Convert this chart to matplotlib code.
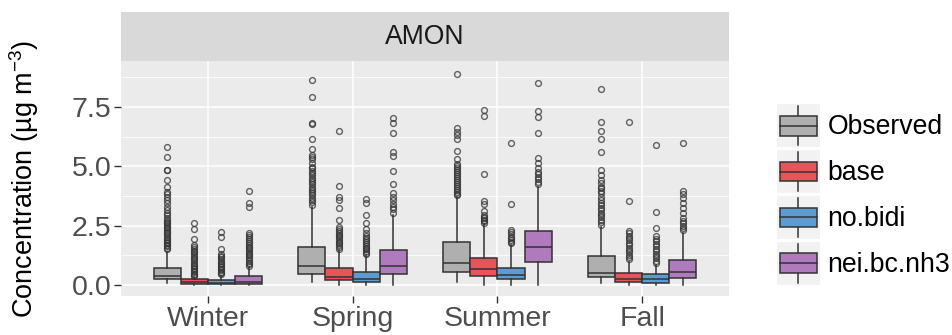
import numpy as np
import matplotlib.pyplot as plt
from matplotlib.legend_handler import HandlerBase
from matplotlib.patches import Rectangle, Patch
from matplotlib.lines import Line2D

plt.rcParams['font.family'] = ['Liberation Sans', 'DejaVu Sans']
plt.rcParams['mathtext.fontset'] = 'custom'
plt.rcParams['mathtext.rm'] = 'Liberation Sans'
plt.rcParams['mathtext.it'] = 'Liberation Sans:italic'

# Data (rows: series, cols: seasons)
seasons = ['Winter', 'Spring', 'Summer', 'Fall']
series = ['Observed', 'base', 'no.bidi', 'nei.bc.nh3']
colors = ['#AFAFAF', '#E8545A', '#5E9BD0', '#AF7BBD']

q1 = [[0.24, 0.45, 0.56, 0.32],
      [0.04, 0.21, 0.38, 0.14],
      [0.03, 0.14, 0.24, 0.10],
      [0.03, 0.45, 0.98, 0.28]]
med = [[0.38, 0.80, 0.91, 0.52],
       [0.14, 0.35, 0.66, 0.24],
       [0.10, 0.24, 0.41, 0.24],
       [0.14, 0.80, 1.61, 0.56]]
q3 = [[0.73, 1.61, 1.82, 1.22],
      [0.24, 0.70, 1.12, 0.52],
      [0.21, 0.56, 0.73, 0.45],
      [0.38, 1.47, 2.28, 1.05]]
whislo = [[0.10, 0.14, 0.14, 0.10],
          [0.00, 0.02, 0.02, 0.02],
          [0.00, 0.02, 0.02, 0.02],
          [0.00, 0.02, 0.02, 0.02]]
whishi = [[1.40, 3.30, 3.70, 2.46],
          [0.35, 1.47, 2.57, 0.98],
          [0.40, 1.26, 1.69, 0.84],
          [0.77, 2.95, 4.14, 2.18]]

obs_out = [
    [5.83, 5.41, 4.85, 4.83, 4.42, 4.14, 3.93, 3.85, 3.72, 3.60, 3.45, 3.30, 3.16, 3.05, 2.95,
     2.81, 2.75, 2.67, 2.60, 2.52, 2.46, 2.40, 2.33, 2.25, 2.18, 2.10, 2.03, 1.96, 1.90, 1.83,
     1.76, 1.70, 1.63, 1.55, 1.50],
    [8.64, 7.91, 6.81, 6.78, 6.17, 5.74, 5.48, 5.41, 5.30, 5.15, 4.98, 4.92, 4.80, 4.71, 4.62,
     4.52, 4.42, 4.33, 4.24, 4.14, 4.05, 3.96, 3.86, 3.78, 3.68, 3.58, 3.48, 3.37],
    [8.89, 6.60, 6.46, 6.32, 6.15, 5.66, 5.30, 5.12, 5.03, 4.95, 4.86, 4.78, 4.70, 4.61, 4.53,
     4.44, 4.35, 4.27, 4.18, 4.10, 4.01, 3.93, 3.84, 3.78],
    [8.27, 6.88, 6.49, 6.14, 5.62, 4.85, 4.64, 4.42, 4.28, 4.15, 4.07, 3.96, 3.86, 3.72, 3.58,
     3.45, 3.37, 3.26, 3.16, 3.05, 2.95, 2.85, 2.74, 2.64, 2.53],
]
base_out = [
    [2.63, 2.36, 1.95, 1.69, 1.60, 1.52, 1.45, 1.38, 1.30, 1.22, 1.15, 1.08, 1.00, 0.93, 0.86,
     0.80, 0.73, 0.67, 0.60, 0.54, 0.48, 0.42, 0.38],
    [6.49, 4.17, 3.72, 3.58, 3.23, 2.74, 2.46, 2.35, 2.28, 2.20, 2.12, 2.05, 1.98, 1.90, 1.83,
     1.76, 1.68, 1.60, 1.53],
    [7.37, 7.12, 4.68, 3.54, 3.41, 3.13, 2.95, 2.88, 2.82, 2.75, 2.69, 2.62],
    [6.85, 3.54, 2.29, 2.18, 2.08, 1.98, 1.88, 1.78, 1.68, 1.58, 1.48, 1.38, 1.28, 1.18, 1.08],
]
nobidi_out = [
    [2.22, 2.01, 1.53, 1.31, 1.24, 1.17, 1.10, 1.02, 0.95, 0.88, 0.82, 0.75, 0.69, 0.62, 0.56,
     0.50, 0.45],
    [3.61, 3.47, 2.95, 2.63, 2.35, 2.18, 2.05, 1.98, 1.90, 1.82, 1.74, 1.66, 1.58, 1.50, 1.42,
     1.35, 1.30],
    [5.97, 3.41, 2.32, 2.25, 2.15, 2.04, 1.97, 1.90, 1.83, 1.76],
    [5.89, 3.08, 2.39, 2.06, 1.95, 1.85, 1.74, 1.63, 1.52, 1.42, 1.32, 1.22, 1.12, 1.02, 0.94],
]
nei_out = [
    [3.97, 3.47, 3.30, 2.18, 2.12, 2.03, 1.95, 1.87, 1.78, 1.70, 1.62, 1.55, 1.47, 1.40, 1.32,
     1.25, 1.17, 1.10, 1.02, 0.95, 0.88, 0.82],
    [7.02, 6.81, 6.42, 5.62, 5.44, 4.82, 4.24, 3.86, 3.72, 3.58, 3.41, 3.30, 3.19, 3.05],
    [8.53, 7.33, 7.09, 6.42, 5.34, 5.13, 4.95, 4.77, 4.66, 4.56, 4.45, 4.35, 4.25],
    [5.97, 3.97, 3.83, 3.65, 3.44, 3.23, 3.02, 2.81, 2.70, 2.60, 2.50, 2.40, 2.32],
]
outliers = [obs_out, base_out, nobidi_out, nei_out]

W, H = 952, 335
fig = plt.figure(figsize=(W / 100, H / 100), dpi=100)

# panel and strip in pixel geometry
px_l, px_r, px_t, px_b = 121, 729, 61, 296
ax = fig.add_axes([px_l / W, 1 - px_b / H, (px_r - px_l) / W, (px_b - px_t) / H])
strip = fig.add_axes([px_l / W, 1 - px_t / H, (px_r - px_l) / W, (px_t - 12) / H])

edge = '#333333'
ax.set_facecolor('#EBEBEB')
for sp in ax.spines.values():
    sp.set_visible(False)

x = np.arange(1, len(seasons) + 1)
dodge = 0.75 / len(series)
for j, name in enumerate(series):
    stats = []
    for i in range(len(seasons)):
        stats.append(dict(med=med[j][i], q1=q1[j][i], q3=q3[j][i],
                          whislo=whislo[j][i], whishi=whishi[j][i],
                          fliers=outliers[j][i]))
    pos = x - 0.375 + dodge * (j + 0.5)
    ax.bxp(stats, positions=pos, widths=dodge, patch_artist=True, showcaps=False,
           manage_ticks=False,
           boxprops=dict(facecolor=colors[j], edgecolor=edge, linewidth=1.1),
           medianprops=dict(color=edge, linewidth=1.1),
           whiskerprops=dict(color=edge, linewidth=1.1),
           flierprops=dict(marker='o', markerfacecolor='none', markeredgecolor=edge,
                           markersize=4.2, markeredgewidth=1.0, alpha=0.75),
           zorder=3)

ax.set_xlim(0.4, len(seasons) + 0.6)
ax.set_ylim(-0.46, 9.44)
ax.set_xticks(x)
ax.set_xticklabels(seasons)
ax.set_yticks([0, 2.5, 5, 7.5])
ax.set_yticklabels(['0.0', '2.5', '5.0', '7.5'])
ax.set_yticks([1.25, 3.75, 6.25, 8.75], minor=True)
ax.grid(True, which='major', color='white', linewidth=1.1, zorder=0)
ax.grid(True, which='minor', axis='y', color='white', linewidth=0.55, zorder=0)
ax.set_axisbelow(True)
ax.tick_params(which='major', length=4.7, width=1.0, color=edge, labelsize=20.5,
               labelcolor='#4D4D4D', pad=2.2)
ax.tick_params(which='minor', length=0)
ax.set_ylabel('Concentration (µg m$^{-3}$)', fontsize=19.5, color='black')
ax.yaxis.set_label_coords(-0.131, 0.5)

strip.set_facecolor('#D9D9D9')
strip.set_xticks([])
strip.set_yticks([])
for sp in strip.spines.values():
    sp.set_visible(False)
strip.text(0.5, 0.5, 'AMON', ha='center', va='center', fontsize=19.2, color='#1A1A1A',
           transform=strip.transAxes)


class BoxKey(HandlerBase):
    def create_artists(self, legend, orig_handle, xdescent, ydescent, width, height,
                       fontsize, trans):
        x0, y0 = -xdescent, -ydescent
        bg = Rectangle((x0, y0), width, height, facecolor='#F2F2F2', edgecolor='none',
                       transform=trans)
        wl = Line2D([x0 + width / 2] * 2, [y0 + 0.05 * height, y0 + 0.95 * height],
                    color=edge, linewidth=1.1, transform=trans)
        box = Rectangle((x0 + 0.07 * width, y0 + 0.27 * height), 0.86 * width, 0.46 * height,
                        facecolor=orig_handle.get_facecolor(), edgecolor=edge, linewidth=1.1,
                        transform=trans)
        md = Line2D([x0 + 0.07 * width, x0 + 0.93 * width], [y0 + height / 2] * 2,
                    color=edge, linewidth=1.1, transform=trans)
        return [bg, wl, box, md]


handles = [Patch(facecolor=c) for c in colors]
fig.legend(handles, series, handler_map={Patch: BoxKey()}, loc='center left',
           bbox_to_anchor=(777 / W, 1 - 194.5 / H), frameon=False, fontsize=19.2,
           handlelength=1.6, handleheight=2.1, labelspacing=0.11, handletextpad=0.3,
           borderpad=0, borderaxespad=0)

fig.savefig('out.png', dpi=100)
